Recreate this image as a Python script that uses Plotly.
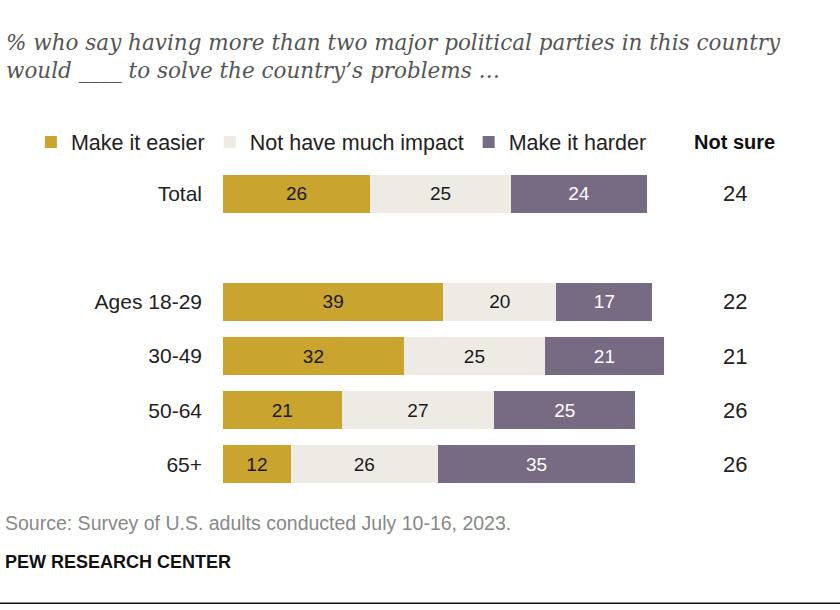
import plotly.graph_objects as go

groups = ["Total", "Ages 18-29", "30-49", "50-64", "65+"]
rows = [0, 2, 3, 4, 5]
easier = [26, 39, 32, 21, 12]
no_impact = [25, 20, 25, 27, 26]
harder = [24, 17, 21, 25, 35]
not_sure = [24, 22, 21, 26, 26]

fig = go.Figure()
series = [("Make it easier", easier, "#C9A42F", "#1a1a1a"),
          ("Not have much impact", no_impact, "#EEEBE5", "#1a1a1a"),
          ("Make it harder", harder, "#766B83", "white")]
for name, vals, col, tcol in series:
    fig.add_trace(go.Bar(y=rows, x=vals, name=name, orientation="h",
                         marker=dict(color=col, line=dict(width=0)),
                         text=vals, textposition="inside", insidetextanchor="middle",
                         textfont=dict(color=tcol, size=19), hoverinfo="skip"))

for r, v in zip(rows, not_sure):
    fig.add_annotation(x=90.6, y=r, text=str(v), showarrow=False,
                       font=dict(size=22, color="#222"))
fig.add_annotation(x=90.6, yref="paper", y=1.008, yanchor="middle", text="<b>Not sure</b>",
                   showarrow=False, font=dict(size=20, color="#111"))

fig.add_annotation(xref="paper", yref="paper", x=-0.388, y=1.24, xanchor="left",
                   yanchor="middle", align="left", showarrow=False,
                   text="<i>% who say having more than two major political parties in this country<br>would ____ to solve the country’s problems …</i>",
                   font=dict(family="DejaVu Serif", size=21.5, color="#555"))
fig.add_annotation(xref="paper", yref="paper", x=-0.39, y=-0.027, xanchor="left",
                   yanchor="middle", showarrow=False,
                   text="Source: Survey of U.S. adults conducted July 10-16, 2023.",
                   font=dict(size=19.5, color="#888"))
fig.add_annotation(xref="paper", yref="paper", x=-0.39, y=-0.133, xanchor="left",
                   yanchor="middle", showarrow=False,
                   text="<b>PEW RESEARCH CENTER</b>",
                   font=dict(size=18, color="#111"))
fig.add_shape(type="line", xref="paper", yref="paper", x0=-0.4, x1=1.1,
              y0=-0.245, y1=-0.245, line=dict(color="#111", width=1.5))

fig.update_layout(
    width=840, height=610, barmode="stack", bargap=0.3,
    margin=dict(l=223, r=52, t=145, b=97),
    plot_bgcolor="white", paper_bgcolor="white",
    font=dict(family="Liberation Sans", size=17, color="#222"),
    showlegend=True,
    legend=dict(orientation="h", x=-0.34, y=1.008, xanchor="left", yanchor="middle",
                font=dict(size=21.5), traceorder="normal", itemwidth=30),
    xaxis=dict(range=[0, 100], visible=False),
    yaxis=dict(range=[5.9, -0.9], tickvals=rows, ticktext=groups,
               showgrid=False, zeroline=False, ticks="", ticklabelstandoff=20,
               tickfont=dict(size=21, color="#222")),
)
fig.write_html("out.html", config={"displayModeBar": False},
               post_script="document.body.style.margin='0';")
